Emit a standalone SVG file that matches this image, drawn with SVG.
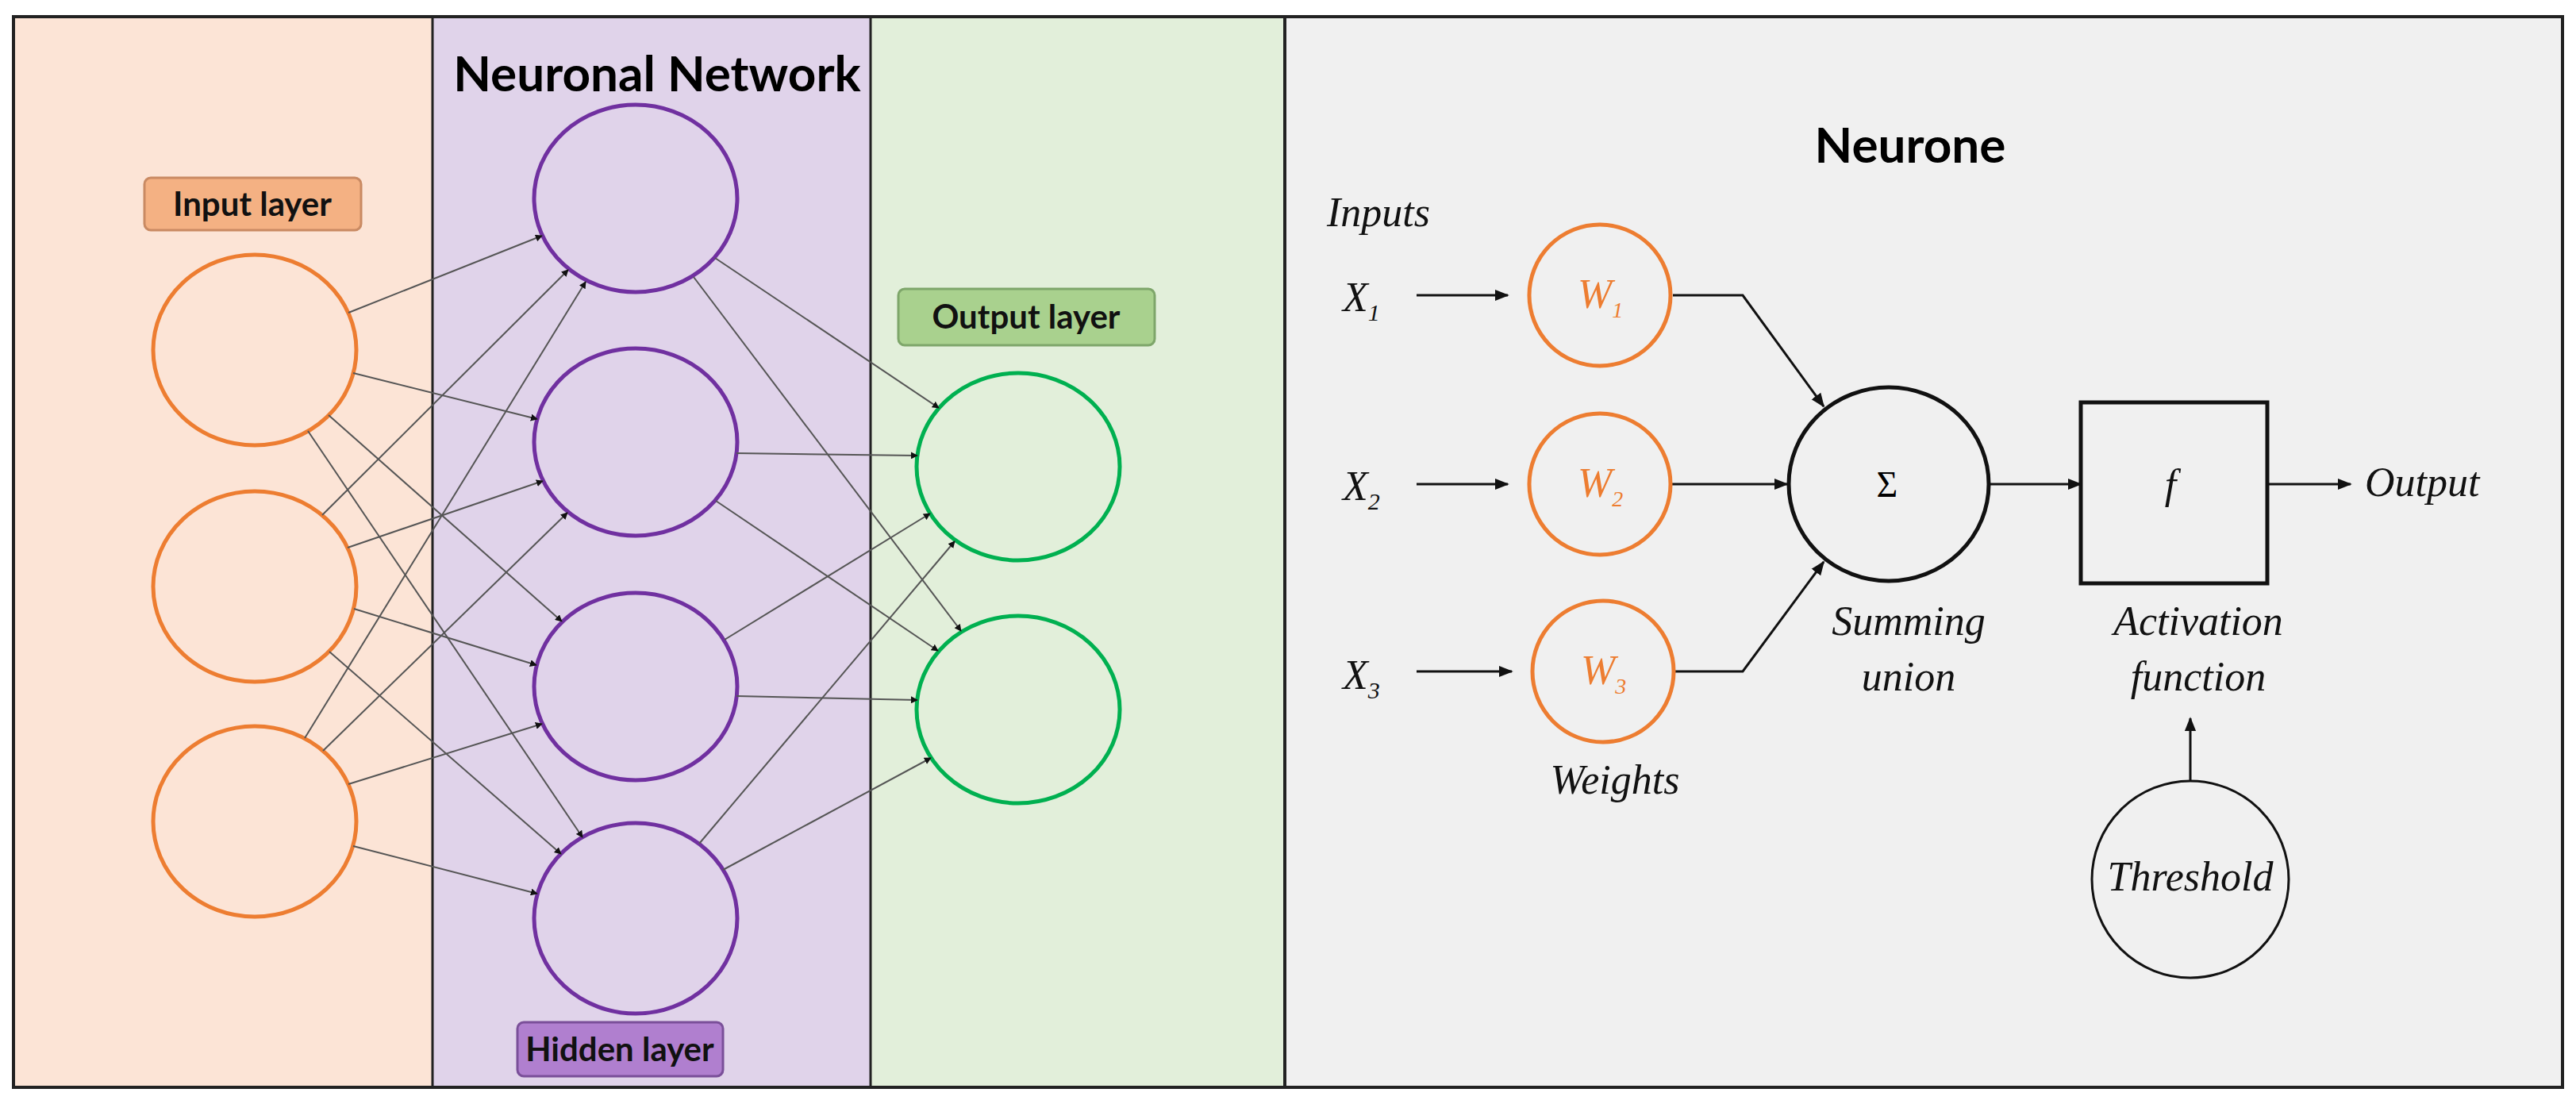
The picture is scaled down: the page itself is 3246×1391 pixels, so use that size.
<svg xmlns="http://www.w3.org/2000/svg" width="3246" height="1391" viewBox="0 0 3246 1391">
<style>
.title{font-family:Lato,"Open Sans",sans-serif;font-weight:bold;font-size:62px;fill:#000;text-anchor:middle}
.lbl{font-family:Lato,"Open Sans",sans-serif;font-weight:bold;font-size:42px;fill:#111;text-anchor:middle}
.it{font-family:"Liberation Serif",serif;font-style:italic;font-size:52px;fill:#111}
.in{fill:none;stroke:#ed7d31;stroke-width:5}
.hid{fill:none;stroke:#7030a0;stroke-width:5}
.out{fill:none;stroke:#00b050;stroke-width:5}
.c{stroke:#555;stroke-width:2;fill:none;marker-end:url(#a)}
.k{stroke:#111;stroke-width:3;fill:none;marker-end:url(#b)}
</style>
<defs>
<marker id="a" viewBox="0 0 10 10" refX="9" refY="5" markerWidth="9" markerHeight="9" orient="auto" markerUnits="userSpaceOnUse"><path d="M0,0L10,5L0,10z" fill="#111"/></marker>
<marker id="b" viewBox="0 0 10 10" refX="9" refY="5" markerWidth="18" markerHeight="18" orient="auto" markerUnits="userSpaceOnUse"><path d="M0,1L10,5L0,9z" fill="#111"/></marker>
</defs>
<rect x="0" y="0" width="3246" height="1391" fill="#fff"/>
<rect x="17" y="21" width="528" height="1349" fill="#fce4d6"/>
<rect x="545" y="21" width="552" height="1349" fill="#e0d3ea"/>
<rect x="1097" y="21" width="522" height="1349" fill="#e2efda"/>
<rect x="1619" y="21" width="1610" height="1349" fill="#f0f0f0"/>
<g stroke="#222" stroke-width="4" fill="none">
<rect x="17" y="21" width="3212" height="1349"/>
<line x1="545" y1="21" x2="545" y2="1370" stroke-width="3"/>
<line x1="1097" y1="21" x2="1097" y2="1370" stroke-width="3"/>
<line x1="1619" y1="21" x2="1619" y2="1370"/>
</g>
<text class="title" x="828" y="115">Neuronal Network</text>
<g id="input-label"><rect x="182" y="224" width="273" height="66" rx="8" fill="#f4b183" stroke="#c98a63" stroke-width="3"/><text class="lbl" x="318" y="272">Input layer</text></g>
<g id="hidden-label"><rect x="652" y="1288" width="259" height="68" rx="8" fill="#b07fcf" stroke="#7a4f99" stroke-width="3"/><text class="lbl" x="781" y="1337">Hidden layer</text></g>
<g id="output-label"><rect x="1132" y="364" width="323" height="71" rx="8" fill="#a9d18e" stroke="#7ea66a" stroke-width="3"/><text class="lbl" x="1293" y="414">Output layer</text></g>
<g id="i1"><ellipse class="in" cx="321" cy="441" rx="128" ry="120"/></g>
<g id="i2"><ellipse class="in" cx="321" cy="739" rx="128" ry="120"/></g>
<g id="i3"><ellipse class="in" cx="321" cy="1035" rx="128" ry="120"/></g>
<g id="h1"><ellipse class="hid" cx="801" cy="250" rx="128" ry="118"/></g>
<g id="h2"><ellipse class="hid" cx="801" cy="557" rx="128" ry="118"/></g>
<g id="h3"><ellipse class="hid" cx="801" cy="865" rx="128" ry="118"/></g>
<g id="h4"><ellipse class="hid" cx="801" cy="1157" rx="128" ry="120"/></g>
<g id="o1"><ellipse class="out" cx="1283" cy="588" rx="128" ry="118"/></g>
<g id="o2"><ellipse class="out" cx="1283" cy="894" rx="128" ry="118"/></g>
<g id="connectors">
<line class="c" x1="439" y1="394" x2="683" y2="297"/>
<line class="c" x1="445" y1="470" x2="677" y2="528"/>
<line class="c" x1="414" y1="523" x2="708" y2="783"/>
<line class="c" x1="388" y1="543" x2="734" y2="1055"/>
<line class="c" x1="406" y1="649" x2="716" y2="340"/>
<line class="c" x1="438" y1="690" x2="684" y2="606"/>
<line class="c" x1="446" y1="767" x2="676" y2="838"/>
<line class="c" x1="415" y1="821" x2="707" y2="1076"/>
<line class="c" x1="384" y1="930" x2="738" y2="355"/>
<line class="c" x1="407" y1="946" x2="715" y2="646"/>
<line class="c" x1="439" y1="988" x2="683" y2="912"/>
<line class="c" x1="445" y1="1066" x2="677" y2="1126"/>
<line class="c" x1="901" y1="325" x2="1183" y2="514"/>
<line class="c" x1="874" y1="349" x2="1211" y2="795"/>
<line class="c" x1="928" y1="571" x2="1156" y2="574"/>
<line class="c" x1="902" y1="631" x2="1182" y2="820"/>
<line class="c" x1="913" y1="806" x2="1172" y2="647"/>
<line class="c" x1="928" y1="877" x2="1156" y2="882"/>
<line class="c" x1="881" y1="1063" x2="1203" y2="682"/>
<line class="c" x1="911" y1="1096" x2="1173" y2="955"/>
<line class="k" x1="1785" y1="372" x2="1900" y2="372"/>
<line class="k" x1="1785" y1="610" x2="1900" y2="610"/>
<line class="k" x1="1785" y1="846" x2="1905" y2="846"/>
<polyline class="k" points="2108,372 2196,372 2298,512"/>
<line class="k" x1="2106" y1="610" x2="2252" y2="610"/>
<polyline class="k" points="2110,846 2196,846 2298,708"/>
<line class="k" x1="2508" y1="610" x2="2622" y2="610"/>
<line class="k" x1="2857" y1="610" x2="2962" y2="610"/>
<line class="k" x1="2760" y1="984" x2="2760" y2="905"/>
</g>
<text class="title" x="2407" y="205">Neurone</text>
<text class="it" x="1672" y="285">Inputs</text>
<g id="x1"><text class="it" x="1692" y="392" font-size="60">X<tspan font-size="30" dy="12">1</tspan></text></g>
<g id="x2"><text class="it" x="1692" y="630" font-size="60">X<tspan font-size="30" dy="12">2</tspan></text></g>
<g id="x3"><text class="it" x="1692" y="868" font-size="60">X<tspan font-size="30" dy="12">3</tspan></text></g>
<g id="w1"><circle class="in" cx="2016" cy="372" r="89"/><text class="it" x="1988" y="388" style="fill:#ed7d31">W<tspan font-size="28" dy="12">1</tspan></text></g>
<g id="w2"><circle class="in" cx="2016" cy="610" r="89"/><text class="it" x="1988" y="626" style="fill:#ed7d31">W<tspan font-size="28" dy="12">2</tspan></text></g>
<g id="w3"><circle class="in" cx="2020" cy="846" r="89"/><text class="it" x="1992" y="862" style="fill:#ed7d31">W<tspan font-size="28" dy="12">3</tspan></text></g>
<g id="sum"><ellipse cx="2380" cy="610" rx="126" ry="122" fill="none" stroke="#111" stroke-width="5"/><text x="2378" y="626" font-family="'Liberation Serif',serif" font-size="46" text-anchor="middle">Σ</text></g>
<g id="act"><rect x="2622" y="507" width="235" height="228" fill="none" stroke="#111" stroke-width="5"/><text class="it" x="2735" y="628" text-anchor="middle">f</text></g>
<text class="it" x="2980" y="625">Output</text>
<text class="it" x="2405" y="800" text-anchor="middle">Summing</text>
<text class="it" x="2405" y="870" text-anchor="middle">union</text>
<text class="it" x="2770" y="800" text-anchor="middle">Activation</text>
<text class="it" x="2770" y="870" text-anchor="middle">function</text>
<text class="it" x="2035" y="1000" text-anchor="middle">Weights</text>
<g id="threshold"><circle cx="2760" cy="1108" r="124" fill="none" stroke="#111" stroke-width="3"/><text class="it" x="2760" y="1122" font-size="42" text-anchor="middle">Threshold</text></g>
</svg>
